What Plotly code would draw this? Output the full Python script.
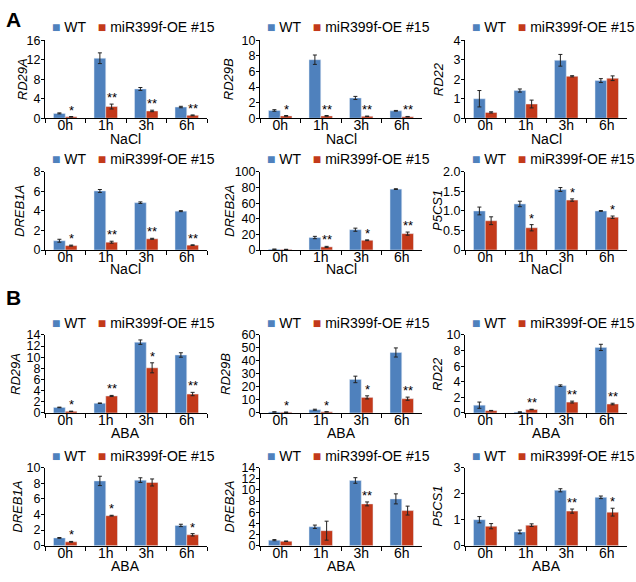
import plotly.graph_objects as go

W, H = 636, 582
times = ["0h", "1h", "3h", "6h"]
series_names = ["WT", "miR399f-OE #15"]
blue = "#4f81bd"
red = "#c3391a"

# ---------- A: NaCl ----------
a_rd29a_wt = [1.0, 12.3, 6.0, 2.3]
a_rd29a_wt_err = [0.1, 1.1, 0.3, 0.15]
a_rd29a_oe = [0.3, 2.4, 1.5, 0.6]
a_rd29a_oe_err = [0.05, 0.5, 0.15, 0.08]
a_rd29a_sig = ["*", "**", "**", "**"]
a_rd29a_ticks = ["0", "4", "8", "12", "16"]

a_rd29b_wt = [1.0, 7.5, 2.6, 0.95]
a_rd29b_wt_err = [0.1, 0.6, 0.2, 0.05]
a_rd29b_oe = [0.3, 0.3, 0.25, 0.2]
a_rd29b_oe_err = [0.05, 0.05, 0.03, 0.03]
a_rd29b_sig = ["*", "**", "**", "**"]
a_rd29b_ticks = ["0", "2", "4", "6", "8", "10"]

a_rd22_wt = [1.0, 1.42, 2.97, 1.93]
a_rd22_wt_err = [0.42, 0.08, 0.3, 0.1]
a_rd22_oe = [0.3, 0.73, 2.15, 2.05]
a_rd22_oe_err = [0.03, 0.2, 0.03, 0.12]
a_rd22_sig = ["", "", "", ""]
a_rd22_ticks = ["0", "1", "2", "3", "4"]

a_dreb1a_wt = [0.95, 6.05, 4.85, 3.98]
a_dreb1a_wt_err = [0.15, 0.15, 0.08, 0.05]
a_dreb1a_oe = [0.45, 0.8, 1.15, 0.5]
a_dreb1a_oe_err = [0.05, 0.1, 0.05, 0.03]
a_dreb1a_sig = ["*", "**", "**", "**"]
a_dreb1a_ticks = ["0", "2", "4", "6", "8"]

a_dreb2a_wt = [1.0, 16.0, 26.0, 78.0]
a_dreb2a_wt_err = [0.1, 1.5, 2.0, 0.5]
a_dreb2a_oe = [0.8, 4.0, 12.5, 21.0]
a_dreb2a_oe_err = [0.05, 0.7, 0.5, 2.0]
a_dreb2a_sig = ["", "**", "*", "**"]
a_dreb2a_ticks = ["0", "20", "40", "60", "80", "100"]

a_p5cs1_wt = [1.0, 1.18, 1.55, 1.0]
a_p5cs1_wt_err = [0.1, 0.07, 0.05, 0.01]
a_p5cs1_oe = [0.75, 0.57, 1.28, 0.84]
a_p5cs1_oe_err = [0.1, 0.08, 0.03, 0.03]
a_p5cs1_sig = ["", "*", "*", "*"]
a_p5cs1_ticks = ["0", "0.5", "1.0", "1.5", "2.0"]

# ---------- B: ABA ----------
b_rd29a_wt = [1.0, 1.75, 12.7, 10.4]
b_rd29a_wt_err = [0.05, 0.05, 0.4, 0.4]
b_rd29a_oe = [0.3, 3.05, 8.1, 3.4]
b_rd29a_oe_err = [0.03, 0.1, 0.9, 0.3]
b_rd29a_sig = ["*", "**", "*", "**"]
b_rd29a_ticks = ["0", "2", "4", "6", "8", "10", "12", "14"]

b_rd29b_wt = [0.8, 2.5, 25.8, 46.5]
b_rd29b_wt_err = [0.1, 0.4, 2.5, 3.5]
b_rd29b_oe = [0.6, 0.9, 12.0, 11.0]
b_rd29b_oe_err = [0.05, 0.1, 1.2, 1.2]
b_rd29b_sig = ["*", "*", "*", "**"]
b_rd29b_ticks = ["0", "10", "20", "30", "40", "50", "60"]

b_rd22_wt = [1.0, 0.12, 3.5, 8.4]
b_rd22_wt_err = [0.4, 0.02, 0.1, 0.4]
b_rd22_oe = [0.3, 0.45, 1.4, 1.15]
b_rd22_oe_err = [0.03, 0.03, 0.12, 0.1]
b_rd22_sig = ["", "**", "**", "**"]
b_rd22_ticks = ["0", "2", "4", "6", "8", "10"]

b_dreb1a_wt = [1.0, 8.3, 8.4, 2.6]
b_dreb1a_wt_err = [0.05, 0.6, 0.3, 0.15]
b_dreb1a_oe = [0.5, 3.85, 8.1, 1.4]
b_dreb1a_oe_err = [0.05, 0.05, 0.45, 0.15]
b_dreb1a_sig = ["*", "*", "", "*"]
b_dreb1a_ticks = ["0", "2", "4", "6", "8", "10"]

b_dreb2a_wt = [1.0, 3.4, 11.7, 8.4]
b_dreb2a_wt_err = [0.1, 0.3, 0.5, 0.9]
b_dreb2a_oe = [0.8, 2.7, 7.5, 6.3]
b_dreb2a_oe_err = [0.05, 1.7, 0.35, 0.8]
b_dreb2a_sig = ["", "", "**", ""]
b_dreb2a_ticks = ["0", "2", "4", "6", "8", "10", "12", "14"]

b_p5cs1_wt = [1.0, 0.53, 2.13, 1.86]
b_p5cs1_wt_err = [0.12, 0.07, 0.06, 0.05]
b_p5cs1_oe = [0.75, 0.79, 1.33, 1.29]
b_p5cs1_oe_err = [0.1, 0.05, 0.08, 0.15]
b_p5cs1_sig = ["", "", "**", "*"]
b_p5cs1_ticks = ["0", "1", "2", "3"]

genes = ["RD29A", "RD29B", "RD22", "DREB1A", "DREB2A", "P5CS1"] * 2
treatments = ["NaCl"] * 6 + ["ABA"] * 6
wt_vals = [a_rd29a_wt, a_rd29b_wt, a_rd22_wt, a_dreb1a_wt, a_dreb2a_wt, a_p5cs1_wt,
           b_rd29a_wt, b_rd29b_wt, b_rd22_wt, b_dreb1a_wt, b_dreb2a_wt, b_p5cs1_wt]
wt_errs = [a_rd29a_wt_err, a_rd29b_wt_err, a_rd22_wt_err, a_dreb1a_wt_err, a_dreb2a_wt_err, a_p5cs1_wt_err,
           b_rd29a_wt_err, b_rd29b_wt_err, b_rd22_wt_err, b_dreb1a_wt_err, b_dreb2a_wt_err, b_p5cs1_wt_err]
oe_vals = [a_rd29a_oe, a_rd29b_oe, a_rd22_oe, a_dreb1a_oe, a_dreb2a_oe, a_p5cs1_oe,
           b_rd29a_oe, b_rd29b_oe, b_rd22_oe, b_dreb1a_oe, b_dreb2a_oe, b_p5cs1_oe]
oe_errs = [a_rd29a_oe_err, a_rd29b_oe_err, a_rd22_oe_err, a_dreb1a_oe_err, a_dreb2a_oe_err, a_p5cs1_oe_err,
           b_rd29a_oe_err, b_rd29b_oe_err, b_rd22_oe_err, b_dreb1a_oe_err, b_dreb2a_oe_err, b_p5cs1_oe_err]
sigs = [a_rd29a_sig, a_rd29b_sig, a_rd22_sig, a_dreb1a_sig, a_dreb2a_sig, a_p5cs1_sig,
        b_rd29a_sig, b_rd29b_sig, b_rd22_sig, b_dreb1a_sig, b_dreb2a_sig, b_p5cs1_sig]
ticks = [a_rd29a_ticks, a_rd29b_ticks, a_rd22_ticks, a_dreb1a_ticks, a_dreb2a_ticks, a_p5cs1_ticks,
         b_rd29a_ticks, b_rd29b_ticks, b_rd22_ticks, b_dreb1a_ticks, b_dreb2a_ticks, b_p5cs1_ticks]

# ---------- layout geometry (pixels) ----------
col_left = [45, 260, 465]
col_w = 162
row_top = [34, 169, 336, 472]
row_h = 80
legend_y = [21, 156, 324, 460]
ytitle_x = [[22, 228, 438], [20, 230, 438], [16, 226, 438], [18, 230, 438]]
xtitle_y = [135, 268, 437, 573]

FONT = "Liberation Sans, Arial, sans-serif"
bargap = 0.42
offset = (1 - bargap) / 4

fig = go.Figure()
layout = dict(
    width=W, height=H, margin=dict(l=0, r=0, t=0, b=0),
    paper_bgcolor="white", plot_bgcolor="white",
    barmode="group", bargap=bargap, bargroupgap=0,
    showlegend=False, font=dict(family=FONT, color="black"),
)
annotations = []

for p in range(12):
    r, c = divmod(p, 3)
    n = "" if p == 0 else str(p + 1)
    xa, ya = "x" + n, "y" + n
    tv = [float(t) for t in ticks[p]]
    fig.add_trace(go.Bar(
        x=times, y=wt_vals[p], name=series_names[0], marker_color=blue,
        error_y=dict(type="data", array=wt_errs[p], color="#222", thickness=1, width=2),
        xaxis=xa, yaxis=ya, offsetgroup="wt"))
    fig.add_trace(go.Bar(
        x=times, y=oe_vals[p], name=series_names[1], marker_color=red,
        error_y=dict(type="data", array=oe_errs[p], color="#222", thickness=1, width=2),
        xaxis=xa, yaxis=ya, offsetgroup="oe"))
    x0 = col_left[c] / W
    x1 = (col_left[c] + col_w) / W
    y1 = 1 - row_top[r] / H
    y0 = 1 - (row_top[r] + row_h) / H
    layout["xaxis" + n] = dict(
        domain=[x0, x1], anchor=ya, type="category", range=[-0.5, 3.5],
        showline=True, linecolor="black", linewidth=1, ticks="outside",
        tickson="boundaries", ticklen=4, tickcolor="black", showgrid=False,
        ticklabelstandoff=-6,
        tickfont=dict(size=14, family=FONT, color="black"), fixedrange=True)
    layout["yaxis" + n] = dict(
        domain=[y0, y1], anchor=xa, range=[0, tv[-1]], tickvals=tv, ticktext=ticks[p],
        showline=True, linecolor="black", linewidth=1, ticks="outside", ticklen=3,
        tickcolor="black", showgrid=False, zeroline=False, ticklabelstandoff=-2,
        tickfont=dict(size=12.5, family=FONT, color="black"), fixedrange=True)
    # significance stars
    for i, s in enumerate(sigs[p]):
        if s:
            annotations.append(dict(
                x=i + offset, y=oe_vals[p][i] + oe_errs[p][i], xref=xa, yref=ya,
                text=s, showarrow=False, yanchor="bottom", yshift=-3,
                font=dict(size=13, family=FONT, color="black")))
    # y title
    annotations.append(dict(
        x=ytitle_x[r][c] / W, y=(y0 + y1) / 2, xref="paper", yref="paper",
        text="<i>" + genes[p] + "</i>", textangle=-90, showarrow=False,
        xanchor="center", yanchor="middle", font=dict(size=13, family=FONT, color="black")))
    # x title
    annotations.append(dict(
        x=(x0 + x1) / 2, y=1 - xtitle_y[r] / H, xref="paper", yref="paper",
        text=treatments[p], showarrow=False, xanchor="center", yanchor="middle",
        font=dict(size=14, family=FONT, color="black")))
    # legend
    annotations.append(dict(
        x=(col_left[c] + 5) / W, y=1 - legend_y[r] / H, xref="paper", yref="paper",
        text=("<span style='color:%s'>\u25a0</span> %s\u00a0\u00a0\u00a0"
              "<span style='color:%s'>\u25a0</span> %s") % (blue, series_names[0], red, series_names[1]),
        showarrow=False, xanchor="left", yanchor="middle",
        font=dict(size=14, family=FONT, color="black")))

# panel letters
annotations.append(dict(x=4 / W, y=1 - 13 / H, xref="paper", yref="paper", text="<b>A</b>",
                        showarrow=False, xanchor="left", yanchor="middle",
                        font=dict(size=21, family=FONT, color="black")))
annotations.append(dict(x=4 / W, y=1 - 298 / H, xref="paper", yref="paper", text="<b>B</b>",
                        showarrow=False, xanchor="left", yanchor="middle",
                        font=dict(size=21, family=FONT, color="black")))

layout["annotations"] = annotations
fig.update_layout(**layout)
fig.write_html("out.html", config={"displayModeBar": False},
               post_script="document.body.style.margin='0px';document.body.style.overflow='hidden';")
